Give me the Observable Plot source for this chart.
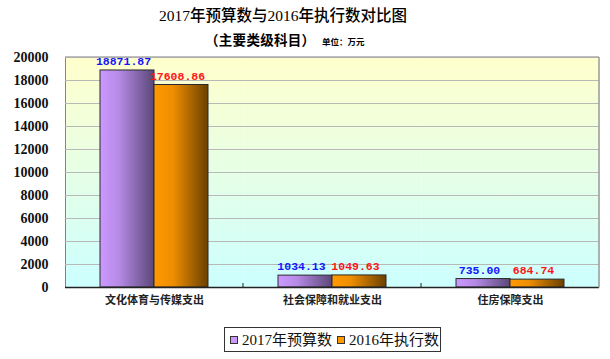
<!DOCTYPE html>
<html>
<head>
<meta charset="utf-8">
<script src="https://cdn.jsdelivr.net/npm/d3@7"></script>
<script src="https://cdn.jsdelivr.net/npm/@observablehq/plot@0.6"></script>
<style>
  body { margin: 0; background: #fff; }
  #wrap { position: relative; width: 610px; height: 359px; overflow: hidden; }
  #wrap svg { position: absolute; left: 0; top: 0; overflow: visible; }
  .title { position: absolute; white-space: nowrap; color: #000; }
  #t1 { left: 283px; top: 6px; transform: translateX(-50%); font: 500 15.5px/20px "Liberation Serif", "Noto Sans CJK SC", serif; }
  #t2 { left: 205px; top: 30px; font: bold 13.5px/18px "Noto Sans CJK SC", sans-serif; letter-spacing: 0.3px; }
  #t3 { left: 322px; top: 35px; font: bold 8.5px/12px "Noto Sans CJK SC", sans-serif; }
  #legend { position: absolute; left: 224px; top: 327px; width: 215px; height: 23px; border: 1px solid #333;
            display: flex; align-items: center; font: 15px/18px "Liberation Serif", "Noto Sans CJK SC", serif; color: #111; }
  .sw { display: inline-block; width: 6px; height: 6px; border: 1px solid #333; margin: 0 4px 0 5px; }
</style>
</head>
<body>
<div id="wrap">
  <div class="title" id="t1">2017年预算数与2016年执行数对比图</div>
  <div class="title" id="t2">（主要类级科目）</div>
  <div class="title" id="t3">单位：万元</div>
  <div id="legend"></div>
</div>
<script>
const categories = ["文化体育与传媒支出", "社会保障和就业支出", "住房保障支出"];
const seriesNames = ["2017年预算数", "2016年执行数"];
const budget2017 = [18871.87, 1034.13, 735.00];
const actual2016 = [17608.86, 1049.63, 684.74];
const yTicks = [0, 2000, 4000, 6000, 8000, 10000, 12000, 14000, 16000, 18000, 20000];
const seriesFill = ["url(#gPurple)", "url(#gOrange)"];
const swatchColors = ["#CC99FF", "#FF9900"];
const labelColors = ["#1515ff", "#ff1515"];

const rows = categories.flatMap((c, i) => [
  {cat: c, series: seriesNames[0], value: budget2017[i]},
  {cat: c, series: seriesNames[1], value: actual2016[i]}
]);
const bySeries = seriesNames.map(s => rows.filter(r => r.series === s));

const svg = Plot.plot({
  width: 610,
  height: 310,
  marginTop: 57,
  marginBottom: 23,
  marginLeft: 64,
  marginRight: 10,
  style: {background: "transparent", fontFamily: "'Liberation Serif', serif", fontSize: "14px", fontWeight: "bold", color: "#111"},
  fx: {domain: categories, padding: 0, axis: "bottom", label: null, tickSize: 0, tickPadding: 9},
  x: {domain: seriesNames, axis: null, paddingInner: 0, paddingOuter: 0.62},
  y: {domain: [0, 20000], ticks: yTicks, tickFormat: "d", label: null, tickSize: 0, tickPadding: 17, line: true},
  marks: [
    Plot.frame({fill: "url(#gBg)"}),
    Plot.ruleY(yTicks.slice(1), {stroke: "#b8b8b8", strokeWidth: 1}),
    ...bySeries.map((d, i) => Plot.barY(d, {
      fx: "cat", x: "series", y: "value",
      fill: seriesFill[i], stroke: "#2a2a2a", strokeWidth: 1
    })),
    ...bySeries.map((d, i) => Plot.text(d, {
      fx: "cat", x: "series", y: "value",
      text: r => r.value.toFixed(2),
      dy: -9, dx: -4, fill: labelColors[i],
      fontFamily: "'Liberation Mono', monospace", fontSize: 11.5, fontWeight: "bold"
    })),
    Plot.ruleY([0], {stroke: "#222", strokeWidth: 1.3})
  ]
});

const s = d3.select(svg);
const defs = s.insert("defs", ":first-child");
function grad(id, stops, vertical) {
  const g = defs.append("linearGradient").attr("id", id)
    .attr("x1", 0).attr("y1", 0).attr("x2", vertical ? 0 : 1).attr("y2", vertical ? 1 : 0);
  stops.forEach(([o, c]) => g.append("stop").attr("offset", o).attr("stop-color", c));
}
grad("gBg", [[0, "#FFFFCC"], [0.5, "#E6FFE6"], [1, "#CCFFFF"]], true);
grad("gPurple", [[0, "#CC99FF"], [0.35, "#B68AE6"], [1, "#5A4878"]], false);
grad("gOrange", [[0, "#FF9900"], [0.35, "#EE8E00"], [1, "#6A4000"]], false);

s.selectAll('[aria-label^="fx-axis"] text')
  .style("font-family", "'Noto Sans CJK SC', sans-serif")
  .style("font-size", "11px").style("font-weight", "bold").attr("fill", "#222");

try {
  const ys = svg.scale("y");
  const fxs = svg.scale("fx");
  const [y0, y1] = ys.range;
  const left = fxs.apply(categories[0]);
  const right = fxs.apply(categories[categories.length - 1]) + fxs.bandwidth;
  const g = s.append("g");
  g.append("line").attr("x1", right).attr("x2", right).attr("y1", y1).attr("y2", y0 + 0.5)
    .attr("stroke", "#999").attr("stroke-width", 1.5);
  g.append("line").attr("x1", left).attr("x2", right).attr("y1", y1).attr("y2", y1)
    .attr("stroke", "#aaa").attr("stroke-width", 1.5);
  categories.slice(1).forEach(c => {
    const x = fxs.apply(c);
    g.append("line").attr("x1", x).attr("x2", x).attr("y1", y0).attr("y2", y0 - 4)
      .attr("stroke", "#222");
  });
} catch (e) {}

document.getElementById("wrap").prepend(svg);

const legend = document.getElementById("legend");
seriesNames.forEach((n, i) => {
  const sw = document.createElement("span");
  sw.className = "sw";
  sw.style.background = swatchColors[i];
  legend.appendChild(sw);
  const t = document.createElement("span");
  t.textContent = n;
  legend.appendChild(t);
});
</script>
</body>
</html>
